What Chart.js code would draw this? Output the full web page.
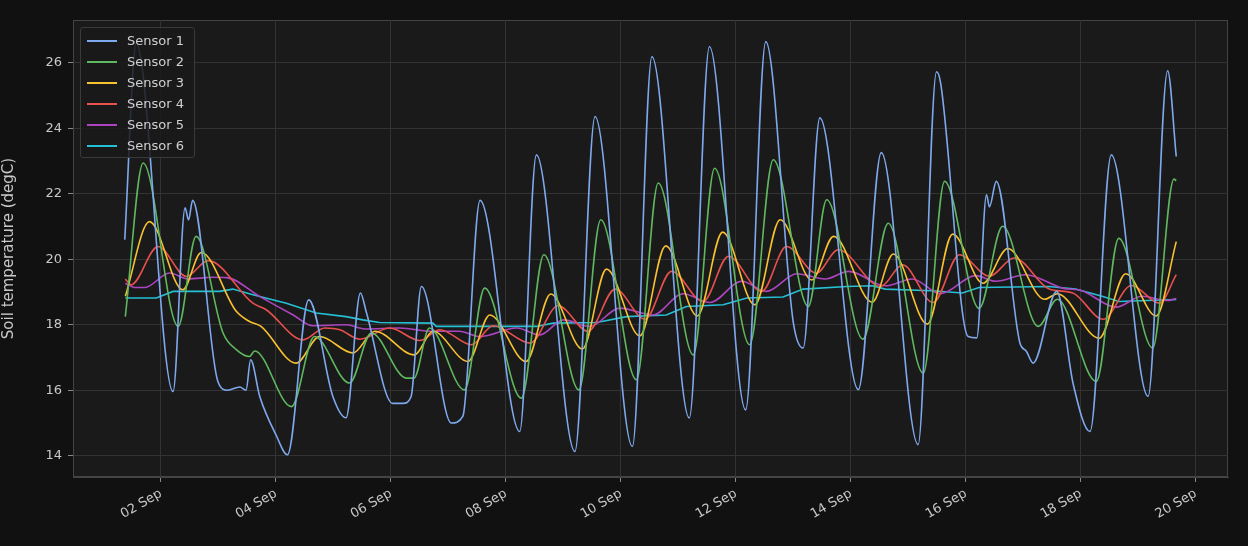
<!DOCTYPE html>
<html>
<head>
<meta charset="utf-8">
<script src="https://cdn.jsdelivr.net/npm/chart.js@4/dist/chart.umd.min.js"></script>
<style>
  html, body { margin: 0; padding: 0; background: #111111; }
  #wrap { position: relative; width: 1248px; height: 546px; }
  #legend {
    position: absolute; left: 80px; top: 27px; width: 113px; height: 129px;
    border: 1px solid #3a3a3a; border-radius: 3px; background: rgba(26,26,26,0.85);
    font: 13px "DejaVu Sans", sans-serif; color: #d0d0d0;
  }
  #legend div { position: absolute; left: 6px; height: 21px; line-height: 21px; }
  #legend span.sw { position: absolute; left: 0; top: 10px; width: 30px; height: 2px; }
  #legend span.tx { position: absolute; left: 40px; white-space: nowrap; }
</style>
</head>
<body>
<div id="wrap">
  <canvas id="chart" width="1248" height="546"></canvas>
  <div id="legend"></div>
</div>
<script>
// ====================== DATA (day of September, degC) ======================
const seriesNames = ['Sensor 1', 'Sensor 2', 'Sensor 3', 'Sensor 4', 'Sensor 5', 'Sensor 6'];
const seriesColors = ['#7fa9ef', '#5fb85f', '#f8c12f', '#e8504d', '#ad45c0', '#25c0d6'];

const sensor1 = [[1.37,20.6],[1.57,26.6],[2.21,15.96],[2.42,21.57],[2.48,21.2],[2.55,21.8],[2.99,16.27],[3.16,16.0],[3.37,16.1],[3.48,16.0],[3.56,16.93],[3.72,15.8],[4.0,14.64],[4.2,14.03],[4.57,18.76],[4.99,15.81],[5.22,15.16],[5.47,18.97],[5.57,18.4],[6.03,15.6],[6.21,15.6],[6.35,15.8],[6.53,19.17],[7.05,15.0],[7.25,15.2],[7.55,21.8],[8.24,14.74],[8.53,23.19],[9.2,14.13],[9.55,24.36],[10.2,14.28],[10.54,26.19],[11.19,15.15],[11.54,26.5],[12.17,15.4],[12.52,26.65],[13.0,18.06],[13.17,17.29],[13.46,24.32],[14.13,16.02],[14.53,23.26],[15.17,14.34],[15.49,25.73],[15.56,25.4],[16.04,17.64],[16.19,17.6],[16.36,21.97],[16.41,21.6],[16.53,22.38],[16.94,17.45],[17.05,17.2],[17.17,16.83],[17.58,19.02],[17.87,16.17],[18.16,14.74],[18.53,23.19],[19.17,15.81],[19.51,25.76],[19.66,23.14]];
const sensor2 = [[1.38,18.25],[1.69,22.94],[2.3,17.95],[2.61,20.7],[3.08,17.75],[3.31,17.24],[3.54,17.03],[3.63,17.2],[4.27,15.5],[4.67,17.64],[5.28,16.22],[5.66,17.75],[6.27,16.37],[6.4,16.37],[6.67,17.9],[7.28,16.01],[7.63,19.12],[8.27,15.76],[8.66,20.14],[9.27,16.01],[9.65,21.21],[10.27,16.32],[10.65,22.33],[11.26,17.08],[11.63,22.78],[12.24,17.39],[12.65,23.04],[13.26,18.56],[13.58,21.82],[14.21,17.56],[14.65,21.1],[15.26,16.52],[15.63,22.38],[16.23,18.5],[16.64,21.01],[17.26,17.95],[17.59,18.78],[18.27,16.27],[18.66,20.64],[19.25,17.29],[19.62,22.45],[19.66,22.4]];
const sensor3 = [[1.38,18.87],[1.8,21.15],[2.38,19.07],[2.7,20.21],[3.31,18.41],[3.54,18.1],[3.74,17.95],[4.35,16.83],[4.76,17.64],[5.34,17.14],[5.72,17.8],[6.41,17.08],[6.73,17.8],[7.34,16.88],[7.72,18.3],[8.35,16.88],[8.78,18.94],[9.33,17.26],[9.75,19.7],[10.33,17.66],[10.78,20.41],[11.33,18.27],[11.77,20.83],[12.33,18.61],[12.77,21.21],[13.32,19.37],[13.7,20.7],[14.37,18.69],[14.74,20.16],[15.33,18.02],[15.77,20.77],[16.3,19.27],[16.73,20.33],[17.37,18.78],[17.59,18.95],[18.32,17.59],[18.78,19.56],[19.31,18.27],[19.66,20.54]];
const sensor4 = [[1.38,19.4],[1.48,19.22],[1.95,20.39],[2.44,19.48],[2.82,19.96],[3.6,18.66],[3.83,18.46],[4.47,17.54],[4.85,17.9],[5.11,17.85],[5.46,17.56],[5.98,17.9],[6.5,17.52],[6.85,17.85],[7.4,17.39],[7.78,17.97],[8.42,17.44],[8.91,18.58],[9.43,17.8],[9.9,19.09],[10.42,18.17],[10.88,19.63],[11.43,18.71],[11.87,20.09],[12.45,19.02],[12.88,20.39],[13.4,19.58],[13.78,20.29],[14.52,19.17],[14.9,19.83],[15.43,18.68],[15.89,20.14],[16.41,19.48],[16.84,20.04],[17.45,19.09],[17.86,18.97],[18.39,18.17],[18.88,19.2],[19.37,18.66],[19.66,19.53]];
const sensor5 = [[1.38,19.27],[1.54,19.14],[1.72,19.14],[2.15,19.58],[2.47,19.4],[2.9,19.45],[3.14,19.44],[3.72,18.86],[4.3,18.3],[4.64,17.97],[5.22,18.0],[5.57,17.87],[6.15,17.9],[6.73,17.8],[7.19,17.8],[7.55,17.64],[8.19,17.9],[8.59,17.69],[9.0,18.15],[9.46,17.95],[9.98,18.51],[10.56,18.3],[11.08,18.95],[11.55,18.68],[12.1,19.33],[12.53,19.02],[13.06,19.56],[13.55,19.4],[13.96,19.63],[14.6,19.19],[15.07,19.4],[15.56,18.95],[16.17,19.5],[16.52,19.33],[17.04,19.53],[17.68,19.12],[18.02,19.04],[18.61,18.54],[19.07,18.87],[19.51,18.74],[19.66,18.8]];
const sensor6 = [[1.38,18.82],[1.92,18.82],[2.21,19.02],[3.02,19.02],[3.25,19.09],[3.6,18.92],[4.18,18.66],[4.7,18.36],[5.22,18.25],[5.51,18.15],[5.8,18.07],[6.73,18.05],[6.79,17.95],[8.53,17.95],[8.82,18.05],[9.58,18.07],[10.1,18.25],[10.79,18.3],[11.14,18.56],[11.78,18.61],[12.19,18.82],[12.82,18.85],[13.17,19.09],[13.93,19.17],[14.37,19.19],[14.6,19.09],[15.4,19.04],[15.94,18.97],[16.23,19.14],[17.45,19.17],[17.91,19.09],[18.37,18.87],[18.66,18.71],[19.66,18.77]];

const xTicks = [2, 4, 6, 8, 10, 12, 14, 16, 18, 20];
const yTicks = [14, 16, 18, 20, 22, 24, 26];

// ====================== CHART ======================
const allSeries = [sensor1, sensor2, sensor3, sensor4, sensor5, sensor6];
const TEXT = '#c8c8c8';
const GRID = '#333333';

const plotBg = {
    id: 'plotBg',
    beforeDraw(chart) {
        const { ctx, chartArea: a } = chart;
        ctx.save();
        ctx.fillStyle = '#1a1a1a';
        ctx.fillRect(a.left, a.top, a.right - a.left, a.bottom - a.top);
        ctx.strokeStyle = '#444444';
        ctx.lineWidth = 1;
        ctx.strokeRect(a.left + 0.5, a.top + 0.5, a.right - a.left - 1, a.bottom - a.top - 1);
        ctx.restore();
    }
};

new Chart(document.getElementById('chart').getContext('2d'), {
    type: 'line',
    data: {
        datasets: allSeries.map((s, i) => ({
            label: seriesNames[i],
            data: s.map(p => ({ x: p[0], y: p[1] })),
            borderColor: seriesColors[i],
            borderWidth: 1.6,
            pointRadius: 0,
            tension: i === 5 ? 0 : 0.4,
            cubicInterpolationMode: i === 5 ? 'default' : 'monotone',
            fill: false
        }))
    },
    options: {
        responsive: false,
        animation: false,
        layout: { padding: { top: 20, right: 20, left: 0, bottom: 0 } },
        plugins: { legend: { display: false }, tooltip: { enabled: false } },
        scales: {
            x: {
                type: 'linear', min: 0.47, max: 20.56,
                afterBuildTicks: ax => { ax.ticks = xTicks.map(v => ({ value: v })); },
                afterFit: ax => { ax.height = 69; },
                ticks: {
                    color: TEXT, font: { family: 'DejaVu Sans', size: 13 },
                    minRotation: 30, maxRotation: 30, padding: 4,
                    callback: v => String(v).padStart(2, '0') + ' Sep'
                },
                grid: { color: GRID, tickColor: '#888', tickLength: 5 },
                border: { color: '#444444' }
            },
            y: {
                min: 13.35, max: 27.31,
                afterBuildTicks: ax => { ax.ticks = yTicks.map(v => ({ value: v })); },
                afterFit: ax => { ax.width = 73; },
                ticks: { color: TEXT, font: { family: 'DejaVu Sans', size: 13 }, padding: 6 },
                grid: { color: GRID, tickColor: '#888', tickLength: 5 },
                border: { color: '#444444' },
                title: { display: true, text: 'Soil temperature (degC)', color: TEXT, font: { family: 'DejaVu Sans', size: 15 }, padding: 0 }
            }
        }
    },
    plugins: [plotBg]
});

// legend inside the plot, top-left
const legend = document.getElementById('legend');
seriesNames.forEach((name, i) => {
    const row = document.createElement('div');
    row.style.top = (2 + i * 21) + 'px';
    row.innerHTML = '<span class="sw" style="background:' + seriesColors[i] + '"></span><span class="tx">' + name + '</span>';
    legend.appendChild(row);
});
</script>
</body>
</html>
